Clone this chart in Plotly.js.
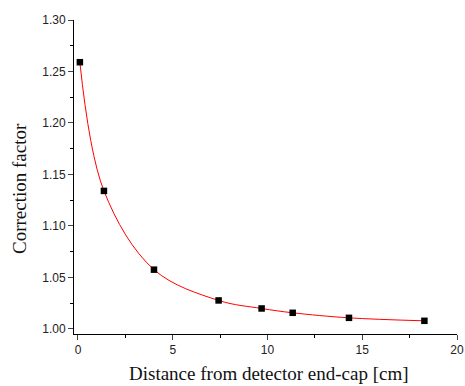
<!DOCTYPE html>
<html><head><meta charset="utf-8">
<script src="https://cdn.plot.ly/plotly-3.0.1.min.js"></script>
<style>html,body{margin:0;padding:0;background:#fff}#c{width:465px;height:386px}</style>
</head><body><div id="c"></div>
<script>
const distance = [0.1, 1.37, 4.01, 7.42, 9.69, 11.33, 14.30, 18.28];
const correction = [1.259, 1.134, 1.0575, 1.0276, 1.0198, 1.0156, 1.0107, 1.0078];
const xTickVals = [0, 5, 10, 15, 20];
const yTickVals = [1.00, 1.05, 1.10, 1.15, 1.20, 1.25, 1.30];
const yTickText = ['1.00', '1.05', '1.10', '1.15', '1.20', '1.25', '1.30'];
const xTitle = 'Distance from detector end-cap [cm]';
const yTitle = 'Correction factor';

const titleFont = {family: 'Liberation Serif, Times New Roman', size: 19, color: '#111'};
const traces = [
  {x: distance, y: correction, mode: 'lines', type: 'scatter',
   line: {color: 'red', width: 1, shape: 'spline', smoothing: 1.0}, hoverinfo: 'none'},
  {x: distance, y: correction, mode: 'markers', type: 'scatter',
   marker: {symbol: 'square', size: 6.5, color: 'black'}}
];
const layout = {
  width: 465, height: 386, showlegend: false,
  margin: {l: 74, r: 8, t: 20, b: 52},
  paper_bgcolor: 'white', plot_bgcolor: 'white',
  xaxis: {range: [-0.21, 20], tickvals: xTickVals, ticks: 'outside', ticklen: 5, tickwidth: 1,
    showgrid: false, zeroline: false, showline: true, linecolor: 'black', linewidth: 1,
    minor: {tickvals: [2.5,7.5,12.5,17.5], ticks: 'outside', ticklen: 3, tickcolor: 'black'},
    tickfont: {family: 'Liberation Sans, Arial', size: 12, color: '#222'}},
  yaxis: {range: [0.995, 1.30], tickvals: yTickVals, ticktext: yTickText,
    ticks: 'outside', ticklen: 5, tickwidth: 1,
    showgrid: false, zeroline: false, showline: true, linecolor: 'black', linewidth: 1,
    minor: {tickvals: [1.025,1.075,1.125,1.175,1.225,1.275], ticks: 'outside', ticklen: 3, tickcolor: 'black'},
    tickfont: {family: 'Liberation Sans, Arial', size: 12, color: '#222'}},
  annotations: [
    {text: xTitle, xref: 'paper', yref: 'paper', x: 0.51, y: -0.127, xanchor: 'center', yanchor: 'middle',
     showarrow: false, font: titleFont},
    {text: yTitle, xref: 'paper', yref: 'paper', x: -0.141, y: 0.465, xanchor: 'center', yanchor: 'middle',
     textangle: -90, showarrow: false, font: titleFont}
  ]
};
Plotly.newPlot('c', traces, layout, {displayModeBar: false, staticPlot: true});
</script></body></html>
